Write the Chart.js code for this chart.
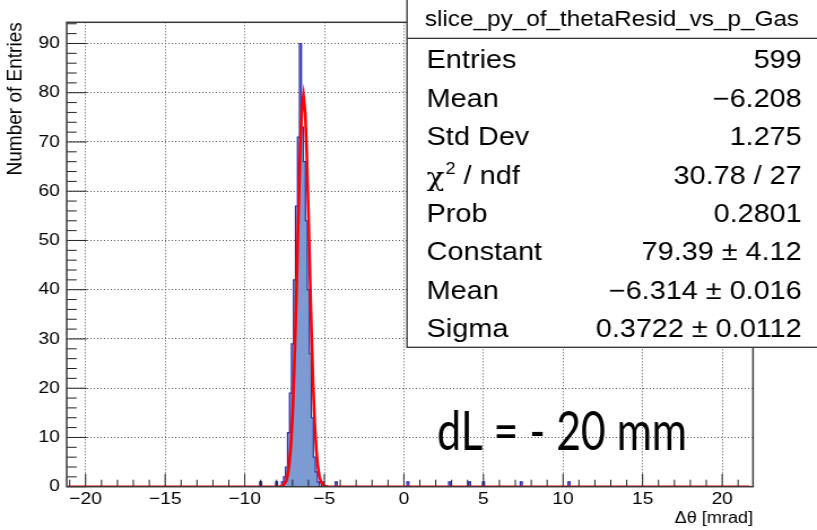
<!DOCTYPE html>
<html>
<head>
<meta charset="utf-8">
<script src="https://cdn.jsdelivr.net/npm/chart.js@4.4.1/dist/chart.umd.min.js"></script>
<style>
html, body { margin: 0; padding: 0; background: #fff; overflow: hidden; }
#wrap { width: 723px; height: 530px; transform: scaleX(1.13); transform-origin: 0 0; }
</style>
</head>
<body>
<div id="wrap"><canvas id="histChart" width="723" height="530"></canvas></div>
<script>
// the original picture is a ROOT canvas pasted a bit wider than it was drawn
const STRETCH = 1.13;

// histogram binning
const binLow = -21.1875;
const binWidth = 0.125;
const binCount = 345;

// non-empty bins (bin centre, entries)
const filledCenters = [-8.875, -7.875, -7.5, -7.375, -7.25, -7.125, -7.0, -6.875, -6.75, -6.625, -6.5,
    -6.375, -6.25, -6.125, -6.0, -5.875, -5.75, -5.625, -5.5, -5.375, -5.25, -5.0,
    -4.125, 0.375, 3.0, 4.25, 5.125, 7.5, 10.5];
const filledCounts = [1, 1, 1, 2, 4, 11, 19, 29, 42, 57, 71,
    90, 73, 66, 54, 40, 27, 14, 6, 3, 1, 1,
    1, 1, 1, 1, 1, 1, 1];

// gaussian fit curve
const fitX = [-21.1, -7.8, -7.6, -7.4, -7.3, -7.2, -7.1, -7.0, -6.9, -6.8, -6.7, -6.6, -6.5, -6.4, -6.31,
    -6.2, -6.1, -6.0, -5.9, -5.8, -5.7, -5.6, -5.5, -5.4, -5.3, -5.2, -5.0, -4.8, 21.7];
const fitY = [0, 0.03, 0.2, 1.1, 2.4, 4.7, 8.5, 14.5, 23.0, 33.8, 46.4, 59.1, 70.1, 77.3, 79.4,
    75.8, 67.3, 55.6, 42.8, 30.6, 20.4, 12.6, 7.3, 3.9, 1.9, 0.9, 0.16, 0.02, 0];

// axes
const xMin = -21.1875, xMax = 21.9375;
const yMin = 0, yMax = 94.3;
const xTicks = [-20, -15, -10, -5, 0, 5, 10, 15, 20];
const yTicks = [0, 10, 20, 30, 40, 50, 60, 70, 80, 90];

// stats box
const statsTitle = 'slice_py_of_thetaResid_vs_p_Gas';
const statsNames = ['Entries', 'Mean', 'Std Dev', 'CHI2', 'Prob', 'Constant', 'Mean', 'Sigma'];
const statsValues = ['599', '\u22126.208', '1.275', '30.78 / 27', '0.2801', '79.39 \u00b1 4.12', '\u22126.314 \u00b1 0.016', '0.3722 \u00b1 0.0112'];
const noteText = 'dL = - 20 mm';

const fmt = (v) => String(v).replace('-', '\u2212');

const counts = new Array(binCount).fill(0);
filledCenters.forEach((c, i) => {
    counts[Math.round((c - binLow) / binWidth - 0.5)] = filledCounts[i];
});
const histPts = counts.map((v, i) => ({ x: binLow + i * binWidth, y: v }));
histPts.push({ x: binLow + binCount * binWidth, y: counts[binCount - 1] });
const fitPts = fitX.map((x, i) => ({ x: x, y: fitY[i] }));

const rootFrame = {
    id: 'rootFrame',
    afterDatasetsDraw(chart) {
        const ctx = chart.ctx;
        const a = chart.chartArea;
        const xs = chart.scales.x, ys = chart.scales.y;
        ctx.save();
        ctx.strokeStyle = '#222';
        ctx.lineWidth = 1;
        ctx.beginPath();
        for (let v = -21; v <= 21; v++) {
            const px = xs.getPixelForValue(v);
            const len = v % 5 === 0 ? 13 : 7;
            ctx.moveTo(px, a.bottom);
            ctx.lineTo(px, a.bottom - len);
        }
        for (let v = 0; v <= 94; v += 2) {
            const py = ys.getPixelForValue(v);
            const len = (v % 10 === 0 ? 20 : 10) / STRETCH;
            ctx.moveTo(a.left, py);
            ctx.lineTo(a.left + len, py);
        }
        ctx.stroke();
        ctx.strokeStyle = '#3a3a3a';
        ctx.lineWidth = 1.5;
        ctx.strokeRect(a.left, a.top, a.right - a.left, a.bottom - a.top);
        ctx.restore();
    },
    afterDraw(chart) {
        const ctx = chart.ctx;
        ctx.save();
        // stats box
        const bx = 407 / STRETCH, bw = 723 - bx + 2, bh = 347.3;
        ctx.fillStyle = '#fff';
        ctx.fillRect(bx, -2, bw, bh + 2);
        ctx.strokeStyle = '#333';
        ctx.lineWidth = 1.3;
        ctx.strokeRect(bx, -2, bw, bh + 2);
        ctx.beginPath();
        ctx.moveTo(bx, 38.3);
        ctx.lineTo(bx + bw, 38.3);
        ctx.stroke();
        ctx.fillStyle = '#000';
        ctx.textBaseline = 'alphabetic';
        ctx.font = '21.5px "Liberation Sans"';
        ctx.textAlign = 'center';
        ctx.fillText(statsTitle, (bx + 723) / 2, 26);
        const left = 426.7 / STRETCH, right = 801.7 / STRETCH;
        statsNames.forEach((name, i) => {
            const y = 68.3 + i * 38.4;
            ctx.font = '25.5px "Liberation Sans"';
            ctx.textAlign = 'left';
            if (name === 'CHI2') {
                ctx.font = '26px "DejaVu Serif"';
                ctx.fillText('\u03c7', left, y + 2);
                let w = ctx.measureText('\u03c7').width;
                ctx.font = '16px "Liberation Sans"';
                ctx.fillText('2', left + w + 1, y - 10);
                w += ctx.measureText('2').width + 1;
                ctx.font = '25.5px "Liberation Sans"';
                ctx.fillText(' / ndf', left + w, y);
            } else {
                ctx.fillText(name, left, y);
            }
            ctx.textAlign = 'right';
            ctx.font = '25.5px "Liberation Sans"';
            ctx.fillText(statsValues[i], right, y);
        });
        // pasted annotation (not stretched)
        ctx.scale(1 / STRETCH, 1);
        ctx.font = '54px Lato';
        ctx.textAlign = 'left';
        ctx.fillText(noteText, 437, 450, 250);
        ctx.restore();
    }
};

Chart.defaults.font.family = '"Liberation Sans"';
Chart.defaults.color = '#000';

new Chart(document.getElementById('histChart').getContext('2d'), {
    type: 'line',
    data: {
        datasets: [{
            label: 'fit',
            data: fitPts,
            borderColor: '#ff0000',
            borderWidth: 2.6,
            pointRadius: 0,
            tension: 0,
            fill: false,
            order: 0
        }, {
            label: 'hist',
            data: histPts,
            stepped: 'after',
            borderColor: '#2b2bb0',
            borderWidth: 1.2,
            backgroundColor: '#7b9bd2',
            pointRadius: 0,
            fill: 'origin',
            order: 1
        }]
    },
    options: {
        responsive: false,
        animation: false,
        devicePixelRatio: 1,
        layout: { padding: { top: 22.3, right: 723 - 753 / STRETCH, left: 0, bottom: 0 } },
        plugins: { legend: { display: false }, tooltip: { enabled: false } },
        scales: {
            x: {
                type: 'linear',
                min: xMin,
                max: xMax,
                afterFit: (s) => { s.height = 530 - 486.7; },
                afterBuildTicks: (s) => { s.ticks = xTicks.map((v) => ({ value: v })); },
                ticks: { autoSkip: false, maxRotation: 0, padding: 2, font: { size: 17 }, callback: (v) => fmt(v) },
                grid: { color: '#555', lineWidth: 1, drawTicks: false },
                border: { display: false, dash: [1, 2] },
                title: { display: true, text: '\u0394\u03b8 [mrad]', align: 'end', font: { size: 16 }, padding: { top: 0, bottom: 1.5 } }
            },
            y: {
                min: yMin,
                max: yMax,
                afterFit: (s) => { s.width = 66.7 / STRETCH; },
                afterBuildTicks: (s) => { s.ticks = yTicks.map((v) => ({ value: v })); },
                ticks: { autoSkip: false, padding: 6, font: { size: 17 } },
                grid: { color: '#555', lineWidth: 1, drawTicks: false },
                border: { display: false, dash: [1, 2] },
                title: { display: true, text: 'Number of Entries', align: 'end', font: { size: 19 }, padding: { top: 2.5, bottom: 0 } }
            }
        }
    },
    plugins: [rootFrame]
});
</script>
</body>
</html>
